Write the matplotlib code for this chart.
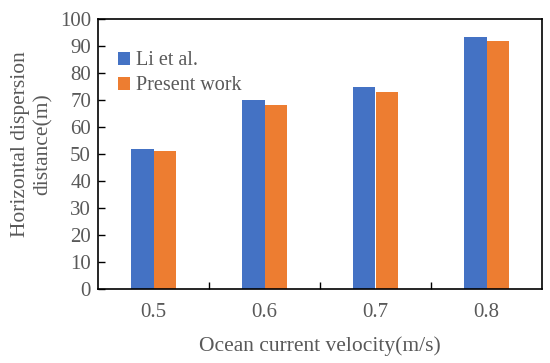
import numpy as np
import matplotlib
matplotlib.use("Agg")
import matplotlib.pyplot as plt

# 데이터
velocities = ["0.5", "0.6", "0.7", "0.8"]
li_et_al = [52, 70, 75, 93.5]
present_work = [51, 68, 73, 92]

plt.rcParams["font.family"] = ["Liberation Serif", "DejaVu Serif"]
TEXT_COLOR = "#595959"

fig = plt.figure(figsize=(5.5, 3.63), dpi=100)
ax = fig.add_axes([98 / 550, 1 - 289 / 363, 444 / 550, 270 / 363])

x = np.arange(len(velocities))
width = 0.2
ax.bar(x - width / 2, li_et_al, width, color="#4472c4", label="Li et al.")
ax.bar(x + width / 2, present_work, width, color="#ed7d31", label="Present work")

ax.set_xlim(-0.5, len(velocities) - 0.5)
ax.set_ylim(0, 100)
ax.set_yticks(range(0, 101, 10))
ax.set_xticks(x)
ax.set_xticklabels(velocities)
ax.set_xticks(x[:-1] + 0.5, minor=True)

ax.tick_params(axis="y", direction="in", length=5, width=1, labelsize=15,
               labelcolor=TEXT_COLOR, pad=5)
ax.tick_params(axis="x", which="major", length=0, labelsize=15,
               labelcolor=TEXT_COLOR, pad=10)
ax.tick_params(axis="x", which="minor", direction="in", length=5, width=1)

for spine in ax.spines.values():
    spine.set_linewidth(1.2)

ax.set_xlabel("Ocean current velocity(m/s)", fontsize=15.5, color=TEXT_COLOR, labelpad=10)
ax.set_ylabel("Horizontal dispersion\ndistance(m)", fontsize=15.5, color=TEXT_COLOR,
              linespacing=1.2)
ax.yaxis.set_label_coords(-0.103, 0.535)

ax.legend(loc="upper left", bbox_to_anchor=(0.027, 0.91), frameon=False, fontsize=14.5,
          labelcolor=TEXT_COLOR, handlelength=0.6, handleheight=0.6,
          handletextpad=0.3, labelspacing=0.3, borderaxespad=0)

fig.savefig("out.png", dpi=100)
